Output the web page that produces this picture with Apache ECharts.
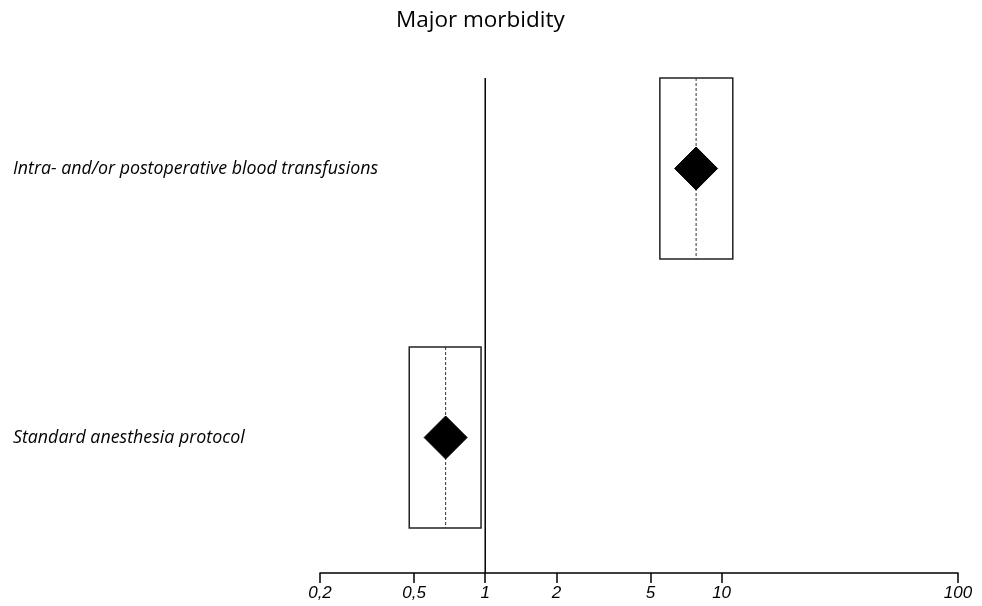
<!DOCTYPE html>
<html>
<head>
<meta charset="utf-8">
<script src="https://cdn.jsdelivr.net/npm/echarts@6/dist/echarts.min.js"></script>
<style>html,body{margin:0;padding:0;background:#fff;}#c{width:982px;height:606px;}</style>
</head>
<body>
<div id="c"></div>
<script>
const categories = ['Standard anesthesia protocol', 'Intra- and/or postoperative blood transfusions'];
const oddsRatio = [0.68, 7.8];
const ciLower = [0.477, 5.48];
const ciUpper = [0.96, 11.15];
const tickValues = [0.2, 0.5, 1, 2, 5, 10, 100];
const refValue = 1;

const BOX_HALF = 90.5;
const DIAMOND_HALF = 21.5;

const chart = echarts.init(document.getElementById('c'));
const boxData = categories.map((c, i) => [ciLower[i], ciUpper[i], oddsRatio[i], i]);

chart.setOption({
  animation: false,
  backgroundColor: '#fff',
  title: {
    text: 'Major morbidity',
    left: 391,
    top: 4,
    textStyle: {fontFamily: 'Open Sans', fontWeight: 'normal', fontSize: 22.5, color: '#000'}
  },
  grid: {left: 320, right: 24, top: 34, bottom: 34, containLabel: false},
  xAxis: {
    type: 'log',
    logBase: 10,
    min: 0.2,
    max: 100,
    offset: 1,
    splitLine: {show: false},
    axisLine: {show: true, lineStyle: {color: '#000', width: 1.5}},
    axisTick: {show: true, customValues: tickValues, length: 10, lineStyle: {color: '#000', width: 1.5}},
    minorTick: {show: false},
    axisLabel: {
      customValues: tickValues,
      formatter: v => String(v).replace('.', ','),
      fontFamily: 'Liberation Sans',
      fontStyle: 'italic',
      fontSize: 17,
      color: '#000',
      margin: 12
    }
  },
  yAxis: {
    type: 'category',
    data: categories,
    axisLine: {show: false},
    axisTick: {show: false},
    splitLine: {show: false},
    axisLabel: {
      align: 'left',
      margin: 307,
      fontFamily: 'Open Sans',
      fontStyle: 'italic',
      fontSize: 17.8,
      color: '#000'
    }
  },
  series: [
    {
      type: 'custom',
      data: [[refValue, categories.length - 1]],
      encode: {x: 0, y: 1},
      z: 1,
      renderItem: (params, api) => {
        const top = api.coord([api.value(0), api.value(1)]);
        const cs = params.coordSys;
        return {
          type: 'line',
          shape: {x1: top[0], y1: top[1] - BOX_HALF, x2: top[0], y2: cs.y + cs.height + 1},
          style: {stroke: '#000', lineWidth: 1.5}
        };
      }
    },
    {
      type: 'custom',
      data: boxData,
      encode: {x: [0, 1, 2], y: 3},
      z: 2,
      renderItem: (params, api) => {
        const lo = api.coord([api.value(0), api.value(3)]);
        const hi = api.coord([api.value(1), api.value(3)]);
        const c = api.coord([api.value(2), api.value(3)]);
        const y = c[1];
        return {
          type: 'group',
          children: [
            {
              type: 'rect',
              shape: {x: lo[0], y: y - BOX_HALF, width: hi[0] - lo[0], height: BOX_HALF * 2},
              style: {fill: '#fff', stroke: '#222', lineWidth: 1.5}
            },
            {
              type: 'line',
              shape: {x1: c[0], y1: y - BOX_HALF, x2: c[0], y2: y + BOX_HALF},
              style: {stroke: '#333', lineWidth: 1, lineDash: [3, 2]}
            },
            {
              type: 'polygon',
              shape: {points: [[c[0], y - DIAMOND_HALF], [c[0] + DIAMOND_HALF, y], [c[0], y + DIAMOND_HALF], [c[0] - DIAMOND_HALF, y]]},
              style: {fill: '#000', stroke: '#000', lineWidth: 1}
            }
          ]
        };
      }
    }
  ]
});
</script>
</body>
</html>
